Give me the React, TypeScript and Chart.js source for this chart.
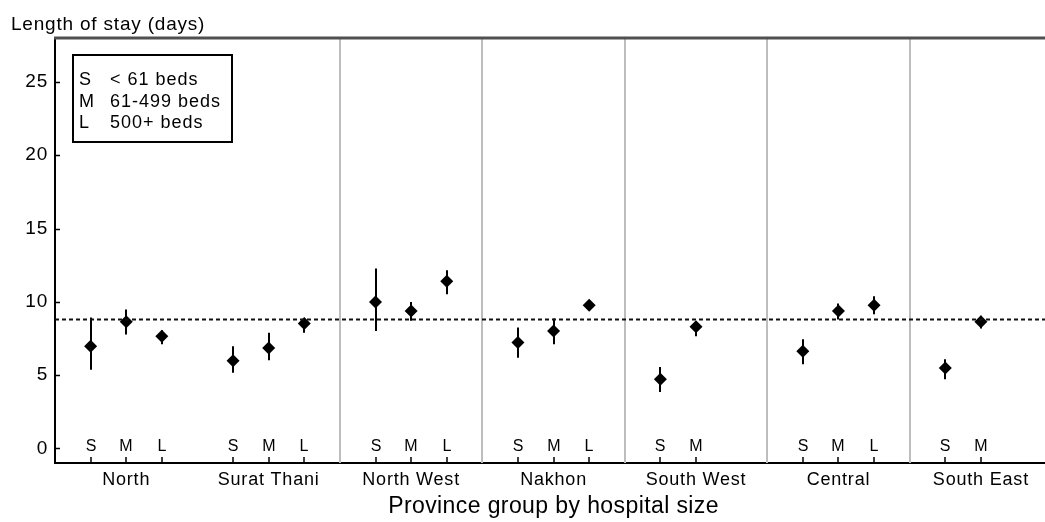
import React, { useEffect, useRef } from 'react';
import { Chart, registerables } from 'chart.js';

Chart.register(...registerables);

// ---- data ----
const groups = ['North', 'Surat Thani', 'North West', 'Nakhon', 'South West', 'Central', 'South East'];
const sizeCodes = ['S', 'M', 'L'];
const sizeLegend = ['< 61 beds', '61-499 beds', '500+ beds'];
const pointGroup = [0, 0, 0, 1, 1, 1, 2, 2, 2, 3, 3, 3, 4, 4, 5, 5, 5, 6, 6];
const pointSize = [0, 1, 2, 0, 1, 2, 0, 1, 2, 0, 1, 2, 0, 1, 0, 1, 2, 0, 1];
const means = [6.97, 8.63, 7.65, 5.97, 6.85, 8.52, 9.99, 9.38, 11.41, 7.22, 8.01, 9.77, 4.71, 8.29, 6.63, 9.38, 9.77, 5.49, 8.63];
const lower = [5.37, 7.76, 7.1, 5.15, 6.01, 7.88, 8.01, 8.7, 10.52, 6.19, 7.1, 9.55, 3.85, 7.65, 5.74, 8.79, 9.15, 4.71, 8.18];
const upper = [8.93, 9.47, 8.05, 6.97, 7.88, 8.85, 12.27, 9.99, 12.16, 8.24, 8.86, 10.0, 5.55, 8.6, 7.45, 9.88, 10.38, 6.08, 9.04];
const overallMean = 8.8;
const yTicks = [0, 5, 10, 15, 20, 25];
const separatorAfterGroup = [1, 2, 3, 4, 5];
const yTitle = 'Length of stay (days)';
const xTitle = 'Province group by hospital size';

const GROUP_SPAN = 4;
const X_MAX = 27.8;
const X_FULL = 28;
const Y_MIN = -1;
const Y_MAX = 28;
const FONT = '"Liberation Sans", Arial, Helvetica, sans-serif';

const xOf = (i: number) => pointGroup[i] * GROUP_SPAN + pointSize[i] + 1;

const decorPlugin = {
  id: 'decor',
  beforeDraw(chart: any) {
    chart.ctx.letterSpacing = '0.8px';
  },
  beforeDatasetsDraw(chart: any) {
    const { ctx, chartArea } = chart;
    const x = chart.scales.x;
    const y = chart.scales.y;
    ctx.save();
    // group separators
    ctx.strokeStyle = '#bdbdbd';
    ctx.lineWidth = 2;
    separatorAfterGroup.forEach((g) => {
      const px = Math.round(x.getPixelForValue((g + 1) * GROUP_SPAN));
      ctx.beginPath();
      ctx.moveTo(px, chartArea.top);
      ctx.lineTo(px, chartArea.bottom);
      ctx.stroke();
    });
    // error bars
    ctx.strokeStyle = '#000';
    ctx.lineWidth = 2;
    means.forEach((_, i) => {
      const px = Math.round(x.getPixelForValue(xOf(i)));
      ctx.beginPath();
      ctx.moveTo(px, y.getPixelForValue(lower[i]));
      ctx.lineTo(px, y.getPixelForValue(upper[i]));
      ctx.stroke();
    });
    ctx.restore();
  },
  afterDraw(chart: any) {
    const { ctx, chartArea } = chart;
    const x = chart.scales.x;
    const y = chart.scales.y;
    ctx.save();
    // top border
    ctx.strokeStyle = '#505050';
    ctx.lineWidth = 3;
    ctx.beginPath();
    ctx.moveTo(chartArea.left - 1, chartArea.top);
    ctx.lineTo(chartArea.right, chartArea.top);
    ctx.stroke();
    // inward y ticks
    ctx.strokeStyle = '#000';
    ctx.lineWidth = 1.5;
    yTicks.forEach((v) => {
      const py = Math.round(y.getPixelForValue(v)) + 0.5;
      ctx.beginPath();
      ctx.moveTo(chartArea.left, py);
      ctx.lineTo(chartArea.left + 5, py);
      ctx.stroke();
    });
    // inward x ticks and size labels
    ctx.fillStyle = '#000';
    ctx.font = `16px ${FONT}`;
    ctx.letterSpacing = '0px';
    ctx.textAlign = 'center';
    ctx.textBaseline = 'middle';
    means.forEach((_, i) => {
      const px = Math.round(x.getPixelForValue(xOf(i)));
      ctx.beginPath();
      ctx.moveTo(px, chartArea.bottom);
      ctx.lineTo(px, chartArea.bottom - 6);
      ctx.stroke();
      ctx.fillText(sizeCodes[pointSize[i]], px, chartArea.bottom - 16);
    });
    // group labels
    ctx.font = `18px ${FONT}`;
    ctx.letterSpacing = '0.8px';
    groups.forEach((g, k) => {
      ctx.fillText(g, x.getPixelForValue(k * GROUP_SPAN + 2), chartArea.bottom + 17);
    });
    // legend box
    const bx = Math.round(chartArea.left + 18);
    const by = Math.round(chartArea.top + 17);
    ctx.strokeStyle = '#000';
    ctx.lineWidth = 2;
    ctx.strokeRect(bx, by, 159, 87);
    ctx.font = `18px ${FONT}`;
    ctx.letterSpacing = '1px';
    ctx.textAlign = 'left';
    sizeCodes.forEach((c, k) => {
      const ry = by + 25 + k * 21.7;
      ctx.fillText(c, bx + 6, ry);
      ctx.fillText(sizeLegend[k], bx + 37, ry);
    });
    // y title
    ctx.font = `19px ${FONT}`;
    ctx.letterSpacing = '0.8px';
    ctx.textBaseline = 'alphabetic';
    ctx.fillText(yTitle, 11, 30);
    // x title
    ctx.font = `23px ${FONT}`;
    ctx.letterSpacing = '0.4px';
    ctx.textAlign = 'center';
    ctx.fillText(xTitle, x.getPixelForValue(X_FULL / 2), 513);
    ctx.restore();
  },
};

export default function App() {
  const ref = useRef<HTMLCanvasElement | null>(null);
  useEffect(() => {
    document.body.style.margin = '0';
    const canvas = ref.current;
    if (!canvas) return;
    const chart = new Chart(canvas, {
      type: 'scatter',
      data: {
        datasets: [
          {
            type: 'line',
            data: [
              { x: 0, y: overallMean },
              { x: X_MAX, y: overallMean },
            ],
            borderColor: '#111',
            borderWidth: 2,
            borderDash: [4, 3],
            pointRadius: 0,
            fill: false,
          } as any,
          {
            data: means.map((m, i) => ({ x: xOf(i), y: m })),
            pointStyle: 'rectRot',
            pointRadius: 6.5,
            backgroundColor: '#000',
            borderColor: '#000',
            borderWidth: 0,
          },
        ],
      },
      options: {
        animation: false,
        responsive: false,
        events: [],
        layout: { autoPadding: false, padding: { top: 38, left: 0, right: 0, bottom: 0 } },
        plugins: { legend: { display: false }, tooltip: { enabled: false }, title: { display: false } },
        scales: {
          x: {
            type: 'linear',
            min: 0,
            max: X_MAX,
            grid: { display: false, drawTicks: false },
            border: { display: true, color: '#000', width: 2 },
            afterBuildTicks: (scale: any) => {
              scale.ticks = groups.map((_, g) => ({ value: g * GROUP_SPAN + 2 }));
            },
            afterFit: (scale: any) => {
              scale.height = 59;
              scale.paddingLeft = 0;
              scale.paddingRight = 0;
            },
            ticks: { display: false },
          },
          y: {
            type: 'linear',
            min: Y_MIN,
            max: Y_MAX,
            grid: { display: false, drawTicks: false },
            border: { display: true, color: '#000', width: 2 },
            afterBuildTicks: (scale: any) => {
              scale.ticks = yTicks.map((v) => ({ value: v }));
            },
            afterFit: (scale: any) => {
              scale.width = 55;
              scale.paddingTop = 0;
              scale.paddingBottom = 0;
            },
            ticks: {
              padding: 7,
              color: '#000',
              font: { family: FONT, size: 19 },
            },
          },
        },
      },
      plugins: [decorPlugin],
    });
    return () => chart.destroy();
  }, []);
  return (
    <canvas ref={ref} width={1045} height={522} style={{ display: 'block', width: 1045, height: 522 }} />
  );
}
